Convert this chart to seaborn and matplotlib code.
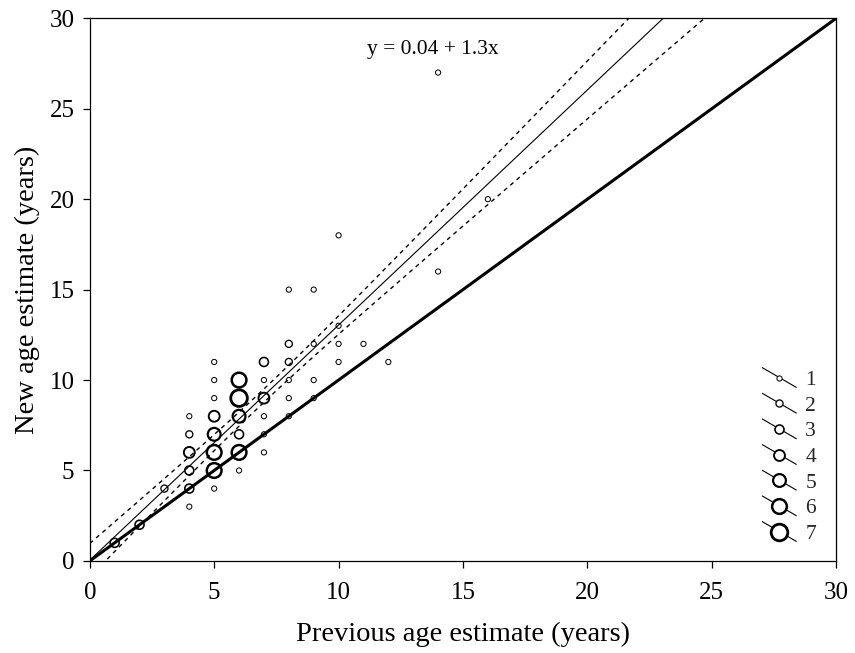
import matplotlib
matplotlib.use("Agg")
import matplotlib.pyplot as plt
import seaborn as sns
import numpy as np
import pandas as pd
from matplotlib.lines import Line2D
from matplotlib.legend_handler import HandlerBase

# ages, one entry per plotted circle; n_fish = circle size class
prev_age = [1, 2, 3, 4, 4, 4, 4, 4, 4, 5, 5, 5, 5, 5, 5, 5, 5,
            6, 6, 6, 6, 6, 6, 7, 7, 7, 7, 7, 7, 8, 8, 8, 8, 8, 8,
            9, 9, 9, 9, 10, 10, 10, 10, 11, 12, 14, 14, 16]
new_age = [1, 2, 4, 3, 4, 5, 6, 7, 8, 4, 5, 6, 7, 8, 9, 10, 11,
           5, 6, 7, 8, 9, 10, 6, 7, 8, 9, 10, 11, 8, 9, 10, 11, 12, 15,
           9, 10, 12, 15, 11, 12, 13, 18, 12, 11, 16, 27, 20]
n_fish = [3, 3, 2, 1, 3, 3, 4, 2, 1, 1, 6, 6, 5, 4, 1, 1, 1,
          1, 6, 3, 5, 7, 6, 1, 1, 1, 4, 1, 3, 1, 1, 1, 2, 2, 1,
          1, 1, 1, 1, 1, 1, 1, 1, 1, 1, 1, 1, 1]

intercept, slope = 0.04, 1.3
legend_levels = [1, 2, 3, 4, 5, 6, 7]


def _diam_pt(k):
    return (3.3 + 1.9 * k) * 0.72


def _edge_pt(k):
    return (0.7 + 0.3 * k) * 0.72


class DiagHandler(HandlerBase):
    """circle with a slanted line through it, as in the original legend"""
    def create_artists(self, legend, orig_handle, xdescent, ydescent,
                       width, height, fontsize, trans):
        cx = width / 2 - xdescent
        cy = height / 2 - ydescent
        dy = 0.29 * width
        line = Line2D([-xdescent, width - xdescent], [cy + dy, cy - dy],
                      color="black", lw=0.8, transform=trans)
        mark = Line2D([cx], [cy], marker="o", linestyle="none",
                      ms=orig_handle.get_markersize(), mfc="white", mec="black",
                      mew=orig_handle.get_markeredgewidth(), transform=trans)
        return [line, mark]


sns.set_theme(style="ticks")
plt.rcParams["font.family"] = ["Liberation Serif", "DejaVu Serif"]

df = pd.DataFrame({"prev": prev_age, "new": new_age, "n": n_fish})

fig, ax = plt.subplots(figsize=(8.55, 6.53), dpi=100)
fig.subplots_adjust(left=0.105, right=0.978, bottom=0.141, top=0.972)

xs = np.linspace(0, 30, 601)
ax.plot(xs, xs, color="black", lw=2.2, zorder=2)
ax.plot(xs, intercept + slope * xs, color="black", lw=0.8, zorder=2)

# +/- 1 standard error band of the fitted line
x = np.array(prev_age, float)
y = np.array(new_age, float)
resid = y - (intercept + slope * x)
n = len(x)
s = np.sqrt((resid ** 2).sum() / (n - 2))
se = s * np.sqrt(1 / n + (xs - x.mean()) ** 2 / ((x - x.mean()) ** 2).sum())
fit = intercept + slope * xs
for band in (fit + se, fit - se):
    ax.plot(xs, band, color="black", lw=1.0, dashes=(3, 3), zorder=2)

sns.scatterplot(data=df, x="prev", y="new", size="n",
                sizes={k: _diam_pt(k) ** 2 for k in legend_levels},
                legend=False, ax=ax, color="black", zorder=4)
coll = ax.collections[-1]
coll.set_facecolor("none")
coll.set_edgecolor("black")
coll.set_linewidths([_edge_pt(k) for k in df["n"]])

ax.set_xlim(0, 30)
ax.set_ylim(0, 30)
ax.set_xticks(range(0, 31, 5))
ax.set_yticks(range(0, 31, 5))
ax.tick_params(axis="both", direction="out", length=5, width=0.9,
               color="black", labelsize=18, labelcolor="black")
ax.tick_params(axis="x", pad=10)
ax.tick_params(axis="y", pad=6)
for sp in ax.spines.values():
    sp.set_visible(True)
    sp.set_color("black")
    sp.set_linewidth(0.9)

ax.set_xlabel("Previous age estimate (years)", fontsize=20.5, color="black", labelpad=13)
ax.set_ylabel("New age estimate (years)", fontsize=20.5, color="black", labelpad=7)

ax.text(13.8, 28.3, f"y = {intercept} + {slope}x", ha="center", va="center",
        fontsize=15.5, color="black")

handles = [Line2D([], [], marker="o", ms=_diam_pt(k), mew=_edge_pt(k)) for k in legend_levels]
ax.legend(handles, [str(k) for k in legend_levels],
          handler_map={Line2D: DiagHandler()},
          loc="center left", bbox_to_anchor=(0.901, 0.1915),
          frameon=False, fontsize=15.5, handlelength=1.58, handletextpad=0.42,
          labelspacing=0.26, borderpad=0, borderaxespad=0)

fig.savefig("out.png", dpi=100)
